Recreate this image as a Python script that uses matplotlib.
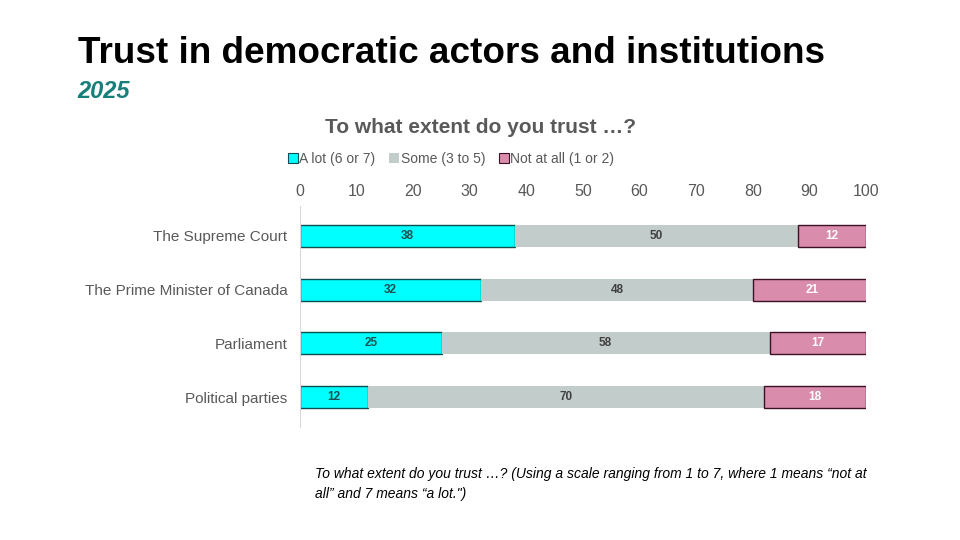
import matplotlib
matplotlib.use("Agg")
import matplotlib.pyplot as plt
from matplotlib.patches import Patch
import numpy as np

categories = ["The Supreme Court", "The Prime Minister of Canada", "Parliament", "Political parties"]
a_lot = [38, 32, 25, 12]
some = [50, 48, 58, 70]
not_at_all = [12, 21, 17, 18]
series_names = ["A lot (6 or 7)", "Some (3 to 5)", "Not at all (1 or 2)"]
xticks = [0, 10, 20, 30, 40, 50, 60, 70, 80, 90, 100]

plt.rcParams['font.family'] = ['Liberation Sans', 'DejaVu Sans']

fig = plt.figure(figsize=(9.6, 5.4), dpi=100)
ax = fig.add_axes([0.3125, 0.215, 0.5896, 0.398])

cyan = "#00FFFF"
gray = "#C2CCCA"
pink = "#D98CAB"
cyan_edge = "#0B4F50"
pink_edge = "#3E1026"
txt_gray = "#595959"

y = np.arange(len(categories))
h = 0.41
left2 = np.array(a_lot)
left3 = left2 + np.array(some)
ax.barh(y, a_lot, height=h, color=cyan, edgecolor=cyan_edge, linewidth=1.0)
ax.barh(y, some, left=left2, height=h, color=gray, edgecolor="none")
ax.barh(y, not_at_all, left=left3, height=h, color=pink, edgecolor=pink_edge, linewidth=1.0)

for i in range(len(categories)):
    ax.text(a_lot[i] / 2, y[i], str(a_lot[i]), ha="center", va="center",
            fontsize=8.5, fontweight="bold", color="#1E4F50")
    ax.text(left2[i] + some[i] / 2, y[i], str(some[i]), ha="center", va="center",
            fontsize=8.5, fontweight="bold", color="#404040")
    ax.text(left3[i] + not_at_all[i] / 2, y[i], str(not_at_all[i]), ha="center", va="center",
            fontsize=8.5, fontweight="bold", color="white")

ax.set_xlim(0, 100)
ax.set_ylim(3.5, -0.5)
ax.set_yticks(y)
ax.set_yticklabels(categories, fontsize=11, color=txt_gray)
ax.set_xticks(xticks)
ax.set_xticklabels([str(t) for t in xticks], fontsize=11.5, color=txt_gray)
ax.xaxis.tick_top()
ax.tick_params(axis="x", length=0, pad=7.5)
ax.tick_params(axis="y", length=0, pad=9)
for s in ["top", "right", "bottom"]:
    ax.spines[s].set_visible(False)
ax.spines["left"].set_color("#D9D9D9")
ax.spines["left"].set_linewidth(0.8)
ax.spines["left"].set_bounds(3.55, -0.55)

fig.text(0.081, 0.901, "Trust in democratic actors and institutions", fontsize=26.6,
         fontweight="bold", color="black", ha="left", va="center")
fig.text(0.081, 0.83, "2025", fontsize=17, fontweight="bold", style="italic",
         color="#167F7A", ha="left", va="center")
fig.text(0.501, 0.764, "To what extent do you trust \u2026?", fontsize=15, fontweight="bold",
         color=txt_gray, ha="center", va="center")

handles = [Patch(facecolor=cyan, edgecolor=cyan_edge, linewidth=0.8),
           Patch(facecolor=gray, edgecolor="none"),
           Patch(facecolor=pink, edgecolor=pink_edge, linewidth=0.8)]
leg = fig.legend(handles, series_names, loc="center", bbox_to_anchor=(0.47, 0.706), ncol=3,
                 frameon=False, fontsize=10, handlelength=0.7, handleheight=0.7,
                 handletextpad=0.1, columnspacing=1.0, labelcolor=txt_gray)

fig.text(0.328, 0.104, "To what extent do you trust \u2026? (Using a scale ranging from 1 to 7, where 1 means \u201cnot at\nall\u201d and 7 means \u201ca lot.\")",
         fontsize=10, style="italic", color="black", ha="left", va="center", linespacing=1.5)

fig.savefig("out.png", dpi=100)
